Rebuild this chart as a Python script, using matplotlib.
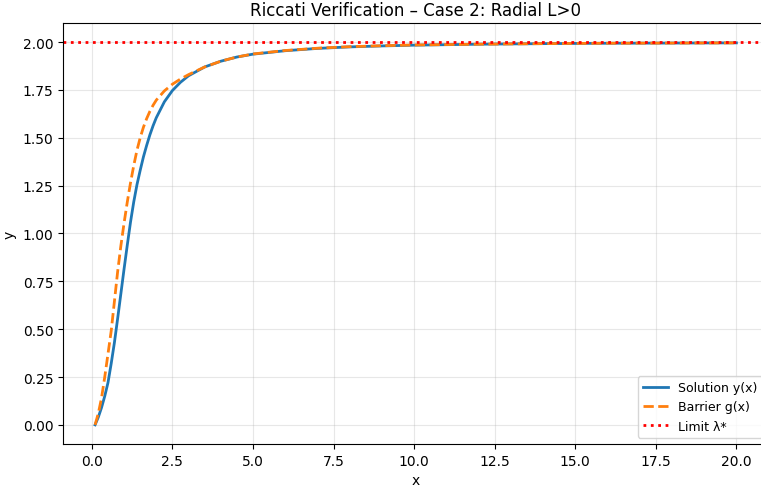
import matplotlib
matplotlib.use('Agg')
import matplotlib.pyplot as plt
import numpy as np

# values
x_vals = [0.1, 0.2, 0.3, 0.4, 0.5, 0.6, 0.7, 0.8, 0.9, 1.0, 1.1, 1.2, 1.3, 1.4, 1.5,
          1.6, 1.7, 1.8, 1.9, 2.0, 2.25, 2.5, 2.75, 3.0, 3.5, 4.0, 4.5, 5.0, 6.0,
          7.0, 8.0, 9.0, 10.0, 12.0, 14.0, 16.0, 18.0, 20.0]
y_solution = [0.0, 0.04, 0.09, 0.15, 0.22, 0.32, 0.43, 0.555, 0.685, 0.815, 0.94,
              1.06, 1.165, 1.255, 1.33, 1.40, 1.46, 1.515, 1.563, 1.605, 1.688,
              1.747, 1.79, 1.824, 1.87, 1.90, 1.922, 1.937, 1.955, 1.967, 1.975,
              1.98, 1.984, 1.989, 1.992, 1.994, 1.995, 1.996]
g_barrier = [0.0, 0.06, 0.14, 0.25, 0.37, 0.49, 0.645, 0.80, 0.935, 1.055, 1.165,
             1.265, 1.355, 1.435, 1.50, 1.555, 1.60, 1.638, 1.67, 1.697, 1.745,
             1.78, 1.807, 1.83, 1.87, 1.90, 1.922, 1.938, 1.956, 1.968, 1.976,
             1.981, 1.985, 1.989, 1.992, 1.994, 1.995, 1.996]
lam_star = 2.0

fig = plt.figure(figsize=(7.61, 4.89), dpi=100)
ax = fig.add_axes([0.0828, 0.09, 0.927, 0.861])

ax.plot(x_vals, y_solution, color='#1f77b4', lw=2, label='Solution y(x)')
ax.plot(x_vals, g_barrier, color='#ff7f0e', lw=2, ls='--', label='Barrier g(x)')
ax.axhline(lam_star, color='red', lw=2, ls=':', label='Limit λ*')

ax.set_xlim(-0.895, 20.995)
ax.set_ylim(-0.1, 2.1)
ax.set_yticks(np.arange(0, 2.01, 0.25))
ax.set_xticks(np.arange(0, 20.1, 2.5))
ax.grid(True, alpha=0.3)
ax.set_xlabel('x')
ax.set_ylabel('y')
ax.set_title('Riccati Verification – Case 2: Radial L>0')
ax.legend(loc='lower right', fontsize=9)

fig.savefig('out.png', dpi=100)
